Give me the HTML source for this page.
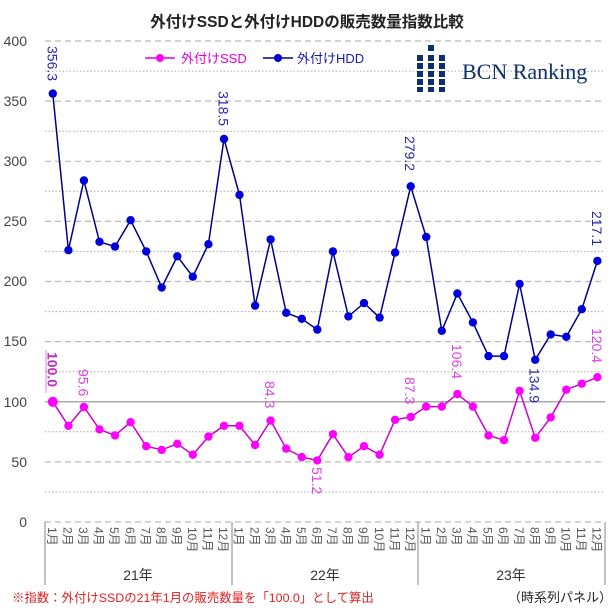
<!DOCTYPE html>
<html><head><meta charset="utf-8"><style>
body{margin:0;background:#fff}
svg{display:block}
text{font-family:"Liberation Sans","Noto Sans CJK JP",sans-serif}
</style></head><body>
<svg width="614" height="614" viewBox="0 0 614 614" xmlns="http://www.w3.org/2000/svg">
<rect width="614" height="614" fill="#fff"/>
<text x="307" y="27" text-anchor="middle" font-size="15.5" font-weight="bold" fill="#222">外付けSSDと外付けHDDの販売数量指数比較</text>
<g stroke="#bbb" stroke-width="1.2" stroke-dasharray="6,4">
<line x1="45" x2="605" y1="41" y2="41"/><line x1="45" x2="605" y1="101.1" y2="101.1"/><line x1="45" x2="605" y1="161.3" y2="161.3"/><line x1="45" x2="605" y1="221.4" y2="221.4"/><line x1="45" x2="605" y1="281.5" y2="281.5"/><line x1="45" x2="605" y1="341.6" y2="341.6"/><line x1="45" x2="605" y1="461.9" y2="461.9"/><line x1="45" x2="605" y1="522" y2="522"/>
</g>
<g stroke="#aaa" stroke-width="1" stroke-dasharray="1.5,2">
<line x1="45" x2="605" y1="71.1" y2="71.1"/><line x1="45" x2="605" y1="131.2" y2="131.2"/><line x1="45" x2="605" y1="191.3" y2="191.3"/><line x1="45" x2="605" y1="251.4" y2="251.4"/><line x1="45" x2="605" y1="311.6" y2="311.6"/><line x1="45" x2="605" y1="371.7" y2="371.7"/><line x1="45" x2="605" y1="431.8" y2="431.8"/><line x1="45" x2="605" y1="491.9" y2="491.9"/>
</g>
<line x1="45" x2="605" y1="401.8" y2="401.8" stroke="#aaa" stroke-width="1.5"/>
<g font-size="14" fill="#444" text-anchor="end">
<text x="27" y="46">400</text><text x="27" y="106">350</text><text x="27" y="166">300</text><text x="27" y="226">250</text><text x="27" y="286">200</text><text x="27" y="346">150</text><text x="27" y="407">100</text><text x="27" y="467">50</text><text x="27" y="527">0</text>
</g>
<g stroke="#999" stroke-width="1.2"><line x1="45" x2="45" y1="522" y2="585"/><line x1="232" x2="232" y1="522" y2="585"/><line x1="418" x2="418" y1="522" y2="585"/><line x1="605" x2="605" y1="522" y2="585"/></g>
<line x1="145" x2="175" y1="58" y2="58" stroke="#e000e0" stroke-width="1.5"/><circle cx="160" cy="58" r="4" fill="#f0f"/>
<text x="181" y="63" font-size="13" fill="#e000e0">外付けSSD</text>
<line x1="263" x2="293" y1="58" y2="58" stroke="#00008b" stroke-width="1.5"/><circle cx="278" cy="58" r="4" fill="#00c"/>
<text x="297" y="63" font-size="13" fill="#1a1aa0">外付けHDD</text>
<g fill="#0d2f6e">
<rect x="428" y="45" width="6" height="6"/>
<rect x="417" y="55" width="6" height="6"/><rect x="428" y="55" width="6" height="6"/><rect x="439" y="55" width="6" height="6"/>
<rect x="417" y="63" width="6" height="6"/><rect x="428" y="63" width="6" height="6"/><rect x="439" y="63" width="6" height="6"/>
<rect x="417" y="71" width="6" height="6"/><rect x="428" y="71" width="6" height="6"/><rect x="439" y="71" width="6" height="6"/>
<rect x="417" y="79" width="6" height="6"/><rect x="428" y="79" width="6" height="6"/><rect x="439" y="79" width="6" height="6"/>
<rect x="417" y="87" width="6" height="5"/><rect x="428" y="87" width="6" height="5"/><rect x="439" y="87" width="6" height="5"/>
</g>
<text x="462" y="79" font-size="22" fill="#0d2f6e" style="font-family:'Liberation Serif',serif">BCN Ranking</text>
<polyline fill="none" stroke="#00008b" stroke-width="1.5" points="52.8,93.6 68.4,250.2 83.9,180.5 99.5,241.8 115,246.6 130.6,220.2 146.2,251.4 161.7,287.5 177.3,256.3 192.8,276.7 208.4,244.2 224,139 239.5,194.9 255.1,305.6 270.6,239.4 286.2,312.8 301.8,318.8 317.3,329.6 332.9,251.4 348.4,316.4 364,303.1 379.6,317.6 395.1,252.6 410.7,186.3 426.2,237 441.8,330.8 457.4,293.5 472.9,322.4 488.5,356.1 504,356.1 519.6,283.9 535.2,359.8 550.7,334.4 566.3,336.8 581.8,309.2 597.4,260.9"/>
<g fill="#0000dd">
<circle cx="52.8" cy="93.6" r="4.2"/><circle cx="68.4" cy="250.2" r="4.2"/><circle cx="83.9" cy="180.5" r="4.2"/><circle cx="99.5" cy="241.8" r="4.2"/><circle cx="115" cy="246.6" r="4.2"/><circle cx="130.6" cy="220.2" r="4.2"/><circle cx="146.2" cy="251.4" r="4.2"/><circle cx="161.7" cy="287.5" r="4.2"/><circle cx="177.3" cy="256.3" r="4.2"/><circle cx="192.8" cy="276.7" r="4.2"/><circle cx="208.4" cy="244.2" r="4.2"/><circle cx="224" cy="139" r="4.2"/><circle cx="239.5" cy="194.9" r="4.2"/><circle cx="255.1" cy="305.6" r="4.2"/><circle cx="270.6" cy="239.4" r="4.2"/><circle cx="286.2" cy="312.8" r="4.2"/><circle cx="301.8" cy="318.8" r="4.2"/><circle cx="317.3" cy="329.6" r="4.2"/><circle cx="332.9" cy="251.4" r="4.2"/><circle cx="348.4" cy="316.4" r="4.2"/><circle cx="364" cy="303.1" r="4.2"/><circle cx="379.6" cy="317.6" r="4.2"/><circle cx="395.1" cy="252.6" r="4.2"/><circle cx="410.7" cy="186.3" r="4.2"/><circle cx="426.2" cy="237" r="4.2"/><circle cx="441.8" cy="330.8" r="4.2"/><circle cx="457.4" cy="293.5" r="4.2"/><circle cx="472.9" cy="322.4" r="4.2"/><circle cx="488.5" cy="356.1" r="4.2"/><circle cx="504" cy="356.1" r="4.2"/><circle cx="519.6" cy="283.9" r="4.2"/><circle cx="535.2" cy="359.8" r="4.2"/><circle cx="550.7" cy="334.4" r="4.2"/><circle cx="566.3" cy="336.8" r="4.2"/><circle cx="581.8" cy="309.2" r="4.2"/><circle cx="597.4" cy="260.9" r="4.2"/>
</g>
<polyline fill="none" stroke="#d000d0" stroke-width="1.5" points="52.8,401.8 68.4,425.8 83.9,407 99.5,429.4 115,435.4 130.6,422.2 146.2,446.2 161.7,449.9 177.3,443.8 192.8,454.7 208.4,436.6 224,425.8 239.5,425.8 255.1,445 270.6,420.6 286.2,448.6 301.8,457.1 317.3,460.4 332.9,434.2 348.4,457.1 364,446.2 379.6,454.7 395.1,419.8 410.7,417 426.2,406.6 441.8,406.6 457.4,394.1 472.9,406.6 488.5,435.4 504,440.2 519.6,390.9 535.2,437.8 550.7,417.4 566.3,389.7 581.8,383.7 597.4,377.2"/>
<g fill="#f0f">
<circle cx="52.8" cy="401.8" r="5"/><circle cx="68.4" cy="425.8" r="4.2"/><circle cx="83.9" cy="407" r="4.2"/><circle cx="99.5" cy="429.4" r="4.2"/><circle cx="115" cy="435.4" r="4.2"/><circle cx="130.6" cy="422.2" r="4.2"/><circle cx="146.2" cy="446.2" r="4.2"/><circle cx="161.7" cy="449.9" r="4.2"/><circle cx="177.3" cy="443.8" r="4.2"/><circle cx="192.8" cy="454.7" r="4.2"/><circle cx="208.4" cy="436.6" r="4.2"/><circle cx="224" cy="425.8" r="4.2"/><circle cx="239.5" cy="425.8" r="4.2"/><circle cx="255.1" cy="445" r="4.2"/><circle cx="270.6" cy="420.6" r="4.2"/><circle cx="286.2" cy="448.6" r="4.2"/><circle cx="301.8" cy="457.1" r="4.2"/><circle cx="317.3" cy="460.4" r="4.2"/><circle cx="332.9" cy="434.2" r="4.2"/><circle cx="348.4" cy="457.1" r="4.2"/><circle cx="364" cy="446.2" r="4.2"/><circle cx="379.6" cy="454.7" r="4.2"/><circle cx="395.1" cy="419.8" r="4.2"/><circle cx="410.7" cy="417" r="4.2"/><circle cx="426.2" cy="406.6" r="4.2"/><circle cx="441.8" cy="406.6" r="4.2"/><circle cx="457.4" cy="394.1" r="4.2"/><circle cx="472.9" cy="406.6" r="4.2"/><circle cx="488.5" cy="435.4" r="4.2"/><circle cx="504" cy="440.2" r="4.2"/><circle cx="519.6" cy="390.9" r="4.2"/><circle cx="535.2" cy="437.8" r="4.2"/><circle cx="550.7" cy="417.4" r="4.2"/><circle cx="566.3" cy="389.7" r="4.2"/><circle cx="581.8" cy="383.7" r="4.2"/><circle cx="597.4" cy="377.2" r="4.2"/>
</g>
<g font-size="14" fill="#2a2aa8">
<text transform="translate(47.5,46) rotate(90)">356.3</text>
<text transform="translate(218.5,91) rotate(90)">318.5</text>
<text transform="translate(405,136) rotate(90)">279.2</text>
<text transform="translate(592,211) rotate(90)">217.1</text>
<text transform="translate(529.7,368) rotate(90)">134.9</text>
</g>
<g font-size="14" fill="#e040e0">
<text transform="translate(47.5,352) rotate(90)" font-weight="bold" fill="#c030c0">100.0</text>
<text transform="translate(78.5,369) rotate(90)">95.6</text>
<text transform="translate(265,381) rotate(90)">84.3</text>
<text transform="translate(312,467) rotate(90)">51.2</text>
<text transform="translate(405,377) rotate(90)">87.3</text>
<text transform="translate(452,344) rotate(90)">106.4</text>
<text transform="translate(592,328) rotate(90)">120.4</text>
</g>
<line x1="46" x2="46" y1="350" y2="393" stroke="#e080e0" stroke-width="1"/>
<g font-size="12" fill="#555">
<text transform="translate(48,527) rotate(90)">1月</text><text transform="translate(63.6,527) rotate(90)">2月</text><text transform="translate(79.1,527) rotate(90)">3月</text><text transform="translate(94.7,527) rotate(90)">4月</text><text transform="translate(110.2,527) rotate(90)">5月</text><text transform="translate(125.8,527) rotate(90)">6月</text><text transform="translate(141.4,527) rotate(90)">7月</text><text transform="translate(156.9,527) rotate(90)">8月</text><text transform="translate(172.5,527) rotate(90)">9月</text><text transform="translate(188,527) rotate(90)">10月</text><text transform="translate(203.6,527) rotate(90)">11月</text><text transform="translate(219.2,527) rotate(90)">12月</text>
<text transform="translate(234.7,527) rotate(90)">1月</text><text transform="translate(250.3,527) rotate(90)">2月</text><text transform="translate(265.8,527) rotate(90)">3月</text><text transform="translate(281.4,527) rotate(90)">4月</text><text transform="translate(297,527) rotate(90)">5月</text><text transform="translate(312.5,527) rotate(90)">6月</text><text transform="translate(328.1,527) rotate(90)">7月</text><text transform="translate(343.6,527) rotate(90)">8月</text><text transform="translate(359.2,527) rotate(90)">9月</text><text transform="translate(374.8,527) rotate(90)">10月</text><text transform="translate(390.3,527) rotate(90)">11月</text><text transform="translate(405.9,527) rotate(90)">12月</text>
<text transform="translate(421.4,527) rotate(90)">1月</text><text transform="translate(437,527) rotate(90)">2月</text><text transform="translate(452.6,527) rotate(90)">3月</text><text transform="translate(468.1,527) rotate(90)">4月</text><text transform="translate(483.7,527) rotate(90)">5月</text><text transform="translate(499.2,527) rotate(90)">6月</text><text transform="translate(514.8,527) rotate(90)">7月</text><text transform="translate(530.4,527) rotate(90)">8月</text><text transform="translate(545.9,527) rotate(90)">9月</text><text transform="translate(561.5,527) rotate(90)">10月</text><text transform="translate(577,527) rotate(90)">11月</text><text transform="translate(592.6,527) rotate(90)">12月</text>
</g>
<g font-size="14" fill="#333" text-anchor="middle">
<text x="138" y="580">21年</text><text x="325" y="580">22年</text><text x="511" y="580">23年</text>
</g>
<text x="12" y="602" font-size="12.4" fill="#e02020">※指数：外付けSSDの21年1月の販売数量を「100.0」として算出</text>
<text x="508" y="602" font-size="13" fill="#222">（時系列パネル）</text>
</svg>
</body></html>
